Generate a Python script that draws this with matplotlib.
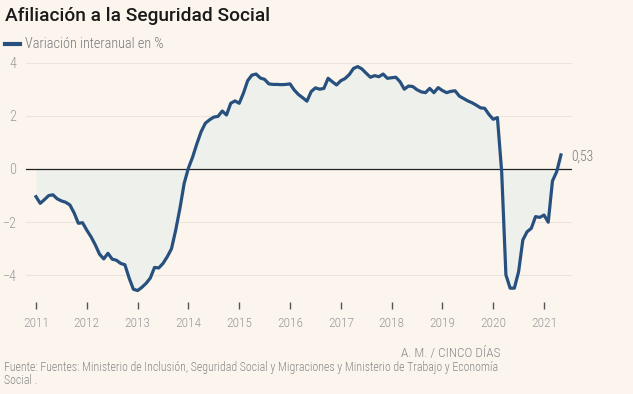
import matplotlib
matplotlib.use("Agg")
import matplotlib.pyplot as plt
import numpy as np

# Monthly values Jan 2011 .. May 2021 (year-on-year % change)
values = [
    -1.04, -1.29, -1.15, -1.00, -0.97, -1.12, -1.20, -1.25, -1.35, -1.65, -2.04, -2.02,   # 2011
    -2.30, -2.55, -2.85, -3.20, -3.38, -3.17, -3.39, -3.43, -3.55, -3.60, -4.10, -4.52,   # 2012
    -4.57, -4.45, -4.30, -4.10, -3.70, -3.72, -3.55, -3.30, -3.00, -2.30, -1.48, -0.54,   # 2013
    0.03, 0.45, 0.95, 1.40, 1.72, 1.85, 1.95, 1.98, 2.18, 2.03, 2.47, 2.56,               # 2014
    2.47, 2.85, 3.32, 3.53, 3.57, 3.42, 3.37, 3.20, 3.18, 3.18, 3.17, 3.18,               # 2015
    3.20, 2.97, 2.80, 2.68, 2.55, 2.91, 3.05, 3.00, 3.03, 3.41, 3.28, 3.16,               # 2016
    3.32, 3.40, 3.55, 3.78, 3.85, 3.76, 3.60, 3.45, 3.51, 3.47, 3.57, 3.41,               # 2017
    3.43, 3.45, 3.28, 3.00, 3.12, 3.10, 2.98, 2.90, 2.87, 3.03, 2.87, 3.06,               # 2018
    2.95, 2.87, 2.92, 2.94, 2.74, 2.65, 2.56, 2.49, 2.40, 2.30, 2.28, 2.05,               # 2019
    1.87, 1.93, -0.10, -3.98, -4.48, -4.48, -3.86, -2.67, -2.36, -2.23, -1.79, -1.82,     # 2020
    -1.73, -2.00, -0.45, -0.10, 0.53,                                                     # 2021
]
years = list(range(2011, 2022))
yticks = [-4, -2, 0, 2, 4]
title = "Afiliación a la Seguridad Social"
legend_label = "Variación interanual en %"
last_label = "0,53"
credit = "A. M. / CINCO DÍAS"
source = ("Fuente: Fuentes: Ministerio de Inclusión, Seguridad Social y Migraciones y Ministerio de Trabajo y Economía\n"
          "Social .")

COND = "Roboto Condensed"
BG = "#fcf5ee"
LINE = "#27507f"
FILL = "#eef0ec"
GRID = "#ebe4dc"
GRAYTXT = "#9a9a9a"

W, H = 633, 394
fig = plt.figure(figsize=(W / 100, H / 100), dpi=100, facecolor=BG)

ax_l, ax_r = 26, 572
ymin, ymax = -5.0, 4.2
px_per_unit = 26.6
y0_px = 169
top_px = y0_px - ymax * px_per_unit
bot_px = y0_px - ymin * px_per_unit
ax = fig.add_axes([ax_l / W, 1 - bot_px / H, (ax_r - ax_l) / W, (bot_px - top_px) / H])
ax.set_facecolor(BG)

x = 2011 + np.arange(len(values)) / 12.0
xmin = 2011 + (ax_l - 36) / 50.8
xmax = 2011 + (ax_r - 36) / 50.8
ax.set_xlim(xmin, xmax)
ax.set_ylim(ymin, ymax)

ax.fill_between(x, values, 0, color=FILL, zorder=1, linewidth=0)
for yt in yticks:
    if yt != 0:
        ax.axhline(yt, color=GRID, lw=0.8, zorder=0)
ax.axhline(0, color="#222222", lw=0.9, zorder=2)
ax.plot(x, values, color=LINE, lw=2.3, zorder=3, solid_joinstyle="round")

for s in ax.spines.values():
    s.set_visible(False)

ax.set_yticks(yticks)
ax.set_yticklabels([str(v).replace("-", "\u2212") for v in yticks], fontsize=10.2,
                   color=GRAYTXT, family=COND, fontweight="light")
ax.tick_params(axis="y", length=0, pad=7)
ax.set_xticks(years)
ax.set_xticklabels([str(y) for y in years], fontsize=9.6, color=GRAYTXT, family=COND,
                   fontweight="light")
ax.tick_params(axis="x", length=5, width=1, color="#555555", direction="out", pad=6)

ax.text(x[-1] + 0.2, values[-1] - 0.07, last_label, fontsize=9.8, color="#777777",
        family=COND, fontweight="light", va="center", ha="left")

fig.text(5 / W, 1 - 16 / H, title, fontsize=13.8, fontweight="medium", color="#1a1a1a",
         family="Roboto", va="center", ha="left")
fig.add_artist(plt.Line2D([5 / W, 20 / W], [1 - 44 / H, 1 - 44 / H], color=LINE, lw=3))
fig.text(25 / W, 1 - 44 / H, legend_label, fontsize=10.3, color="#777777",
         family=COND, fontweight="light", va="center", ha="left")
fig.text(500 / W, 1 - 354 / H, credit, fontsize=9.5, color="#888888", family=COND,
         fontweight="light", va="center", ha="right")
fig.text(4 / W, 1 - 361 / H, source, fontsize=8.6, color="#888888", family=COND,
         fontweight="light", va="top", ha="left", linespacing=0.95)

fig.savefig("out.png", dpi=100, facecolor=BG)
